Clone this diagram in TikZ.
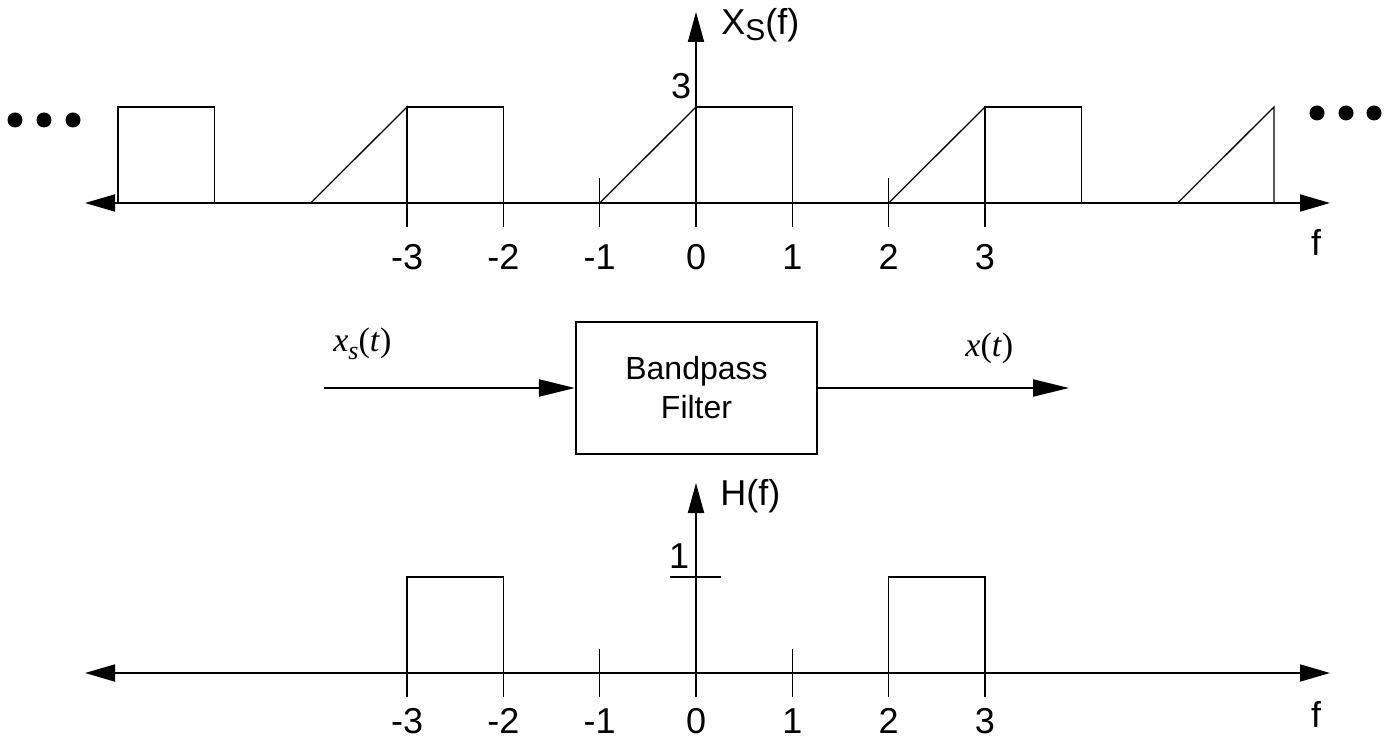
\documentclass[tikz,border=0pt]{standalone}
\usepackage{fontspec}
\setmainfont{Liberation Serif}
\setsansfont{Liberation Sans}
\usetikzlibrary{arrows.meta}
\begin{document}
\begin{tikzpicture}[x=0.5pt,y=-0.5pt,
  axisline/.style={line width=0.9pt},
  bothtips/.style={{Triangle[length=15pt,width=8.5pt]}-{Triangle[length=15pt,width=8.5pt]}},
  uptip/.style={-{Triangle[length=15pt,width=8pt]}},
  sig/.style={line width=0.65pt},
  ticmark/.style={line width=0.75pt},
  flow/.style={line width=1.1pt,-{Triangle[length=18pt,width=8.5pt]}},
  lbl/.style={font=\sffamily\fontsize{18}{21}\selectfont, inner sep=0pt},
  mlbl/.style={font=\rmfamily\fontsize{17}{20}\selectfont, inner sep=0pt, anchor=base west},
  dot/.style={fill=black}
]
\useasboundingbox (0,0) rectangle (1385,742);

% ---------- top spectrum ----------
\coordinate (tl) at (85,203);
\coordinate (tr) at (1330,203);
\draw[axisline,bothtips] (tl) -- (tr);
\coordinate (tv0) at (696,227);
\coordinate (tv1) at (696,12);
\draw[axisline,uptip] (tv0) -- (tv1);

\foreach \k in {-6,-3,0,3}
  \draw[sig] (696+96.33*\k,203) -- ++(0,-96) -- ++(96.33,0) -- ++(0,96);
\foreach \k in {-4,-1,2,5}
  \draw[sig] (696+96.33*\k,203) -- (696+96.33*\k+96.33,107) -- ++(0,96);

\foreach \k [count=\i] in {-3,-2,-1,1,2,3}
  \draw[ticmark] (696+96.33*\k,178) -- ++(0,49);
\foreach \k [count=\i] in {-3,-2,-1,0,1,2,3}
  \node[lbl] (tlab\i) at (696+96.33*\k,257) {\k};

\node[lbl] (tthree) at (681,86) {3};
\node[lbl, anchor=base west, font=\sffamily\fontsize{18}{21}\selectfont] (txs) at (721,35) {X\raisebox{-0.3ex}{\fontsize{15}{18}\selectfont S}(f)};
\node[lbl] (tf) at (1316,242) {f};

\foreach \x [count=\i] in {15,44,73}
  \fill[dot] (\x,120) circle (7.5);
\foreach \x [count=\i] in {1317,1346,1374}
  \fill[dot] (\x,113) circle (7.5);

% ---------- block diagram ----------
\node[draw, line width=1.1pt, minimum width=120.5pt, minimum height=66pt,
      align=center, font=\sffamily\fontsize{16}{19.5}\selectfont] (bpf) at (696.5,388) {Bandpass\\Filter};
\coordinate (in) at (324,388);
\coordinate (out) at (1069,388);
\draw[flow] (in) -- (bpf.west);
\draw[flow] (bpf.east) -- (out);
\node[mlbl] (xs) at (333,352) {\textit{x}\raisebox{-0.45ex}{\fontsize{13}{15}\selectfont\textit{s}}(\textit{t})};
\node[mlbl] (xo) at (965,357) {\textit{x}(\textit{t})};

% ---------- bottom spectrum ----------
\coordinate (bl) at (85,673);
\coordinate (br) at (1330,673);
\draw[axisline,bothtips] (bl) -- (br);
\coordinate (bv0) at (696,697);
\coordinate (bv1) at (696,483);
\draw[axisline,uptip] (bv0) -- (bv1);
\coordinate (h1a) at (670,577);
\coordinate (h1b) at (721,577);
\draw[ticmark] (h1a) -- (h1b);

\foreach \k in {-3,2}
  \draw[sig] (696+96.33*\k,673) -- ++(0,-96) -- ++(96.33,0) -- ++(0,96);
\foreach \k in {-3,-2,-1,1,2,3}
  \draw[ticmark] (696+96.33*\k,649) -- ++(0,48);
\foreach \k [count=\i] in {-3,-2,-1,0,1,2,3}
  \node[lbl] (blab\i) at (696+96.33*\k,721) {\k};

\node[lbl] (bone) at (679,556) {1};
\node[lbl, anchor=base west, font=\sffamily\fontsize{18}{21}\selectfont] (bhf) at (720,505) {H(f)};
\node[lbl] (bf) at (1316,714) {f};
\end{tikzpicture}
\end{document}
